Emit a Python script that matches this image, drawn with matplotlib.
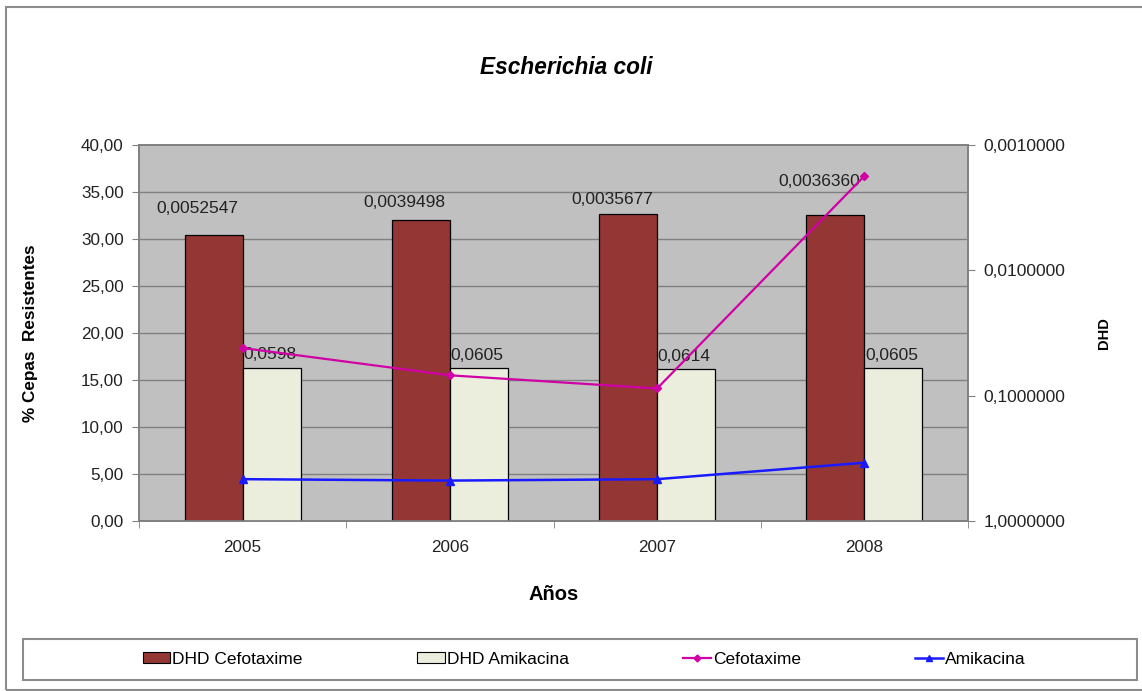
import numpy as np
import matplotlib.pyplot as plt
from matplotlib.patches import Rectangle
from matplotlib.lines import Line2D
from matplotlib.ticker import FixedLocator, NullLocator

plt.rcParams['font.family'] = ['Liberation Sans', 'DejaVu Sans']

# datos
years = ['2005', '2006', '2007', '2008']
dhd_cefotaxime = [0.0052547, 0.0039498, 0.0035677, 0.0036360]
dhd_amikacina = [0.0598, 0.0605, 0.0614, 0.0605]
dhd_cef_labels = ['0,0052547', '0,0039498', '0,0035677', '0,0036360']
dhd_ami_labels = ['0,0598', '0,0605', '0,0614', '0,0605']
pct_cefotaxime = [18.4, 15.5, 14.1, 36.7]
pct_amikacina = [4.45, 4.3, 4.45, 6.2]

left_ticks = np.arange(0, 45, 5)
right_ticks = [0.001, 0.01, 0.1, 1.0]
right_labels = ['0,0010000', '0,0100000', '0,1000000', '1,0000000']

RED = '#943634'
BEIGE = '#EBEEDD'
MAGENTA = '#D100A6'
BLUE = '#1A1AFF'
GRID = '#808080'
TXT = '#222222'

W, H = 1142, 691
fig = plt.figure(figsize=(W / 100, H / 100), dpi=100)

# marco exterior y marco de la leyenda
fig.patches.append(Rectangle((6 / W, 1 - 690 / H), 1.1, (690 - 7) / H,
                             transform=fig.transFigure, fill=False,
                             edgecolor='#8c8c8c', lw=1.5))
fig.patches.append(Rectangle((23 / W, 1 - 680 / H), (1137 - 23) / W, 41 / H,
                             transform=fig.transFigure, fill=False,
                             edgecolor='#8c8c8c', lw=1.5))

ax = fig.add_axes([139 / W, 1 - 521 / H, (968 - 139) / W, (521 - 145) / H])
ax2 = ax.twinx()
ax.set_zorder(2)
ax.patch.set_visible(False)
ax2.set_facecolor('#C0C0C0')
ax2.patch.set_visible(True)

x = np.arange(len(years))
bw = 0.28

# barras DHD en eje derecho (logaritmico invertido)
ax2.set_yscale('log')
ax2.set_ylim(1.0, 0.001)
v1 = np.array(dhd_cefotaxime)
v2 = np.array(dhd_amikacina)
ax2.bar(x - bw / 2, 1.0 - v1, bottom=v1, width=bw, color=RED,
        edgecolor='black', lw=0.9, zorder=3)
ax2.bar(x + bw / 2, 1.0 - v2, bottom=v2, width=bw, color=BEIGE,
        edgecolor='black', lw=0.9, zorder=3)
for xi, v, lab, dy in zip(x, v1, dhd_cef_labels, [27, 17, 15, 34]):
    ax2.annotate(lab, (xi - bw / 2, v), xytext=(-16, dy), textcoords='offset pixels',
                 ha='center', va='center', fontsize=12.5, color=TXT, zorder=5)
for xi, v, lab in zip(x, v2, dhd_ami_labels):
    ax2.annotate(lab, (xi + bw / 2, v), xytext=(-2, 13), textcoords='offset pixels',
                 ha='center', va='center', fontsize=12.5, color=TXT, zorder=5)

ax2.yaxis.set_major_locator(FixedLocator(right_ticks))
ax2.yaxis.set_minor_locator(NullLocator())
ax2.set_yticklabels(right_labels, fontsize=12.5, color=TXT)
ax2.tick_params(axis='y', direction='out', length=5, color=GRID, pad=6)
ax2.set_ylabel('DHD', fontsize=10.5, fontweight='bold', labelpad=23)

# lineas en eje izquierdo
ax.set_ylim(0, 40)
ax.set_xlim(-0.5, len(years) - 0.5)
ax.plot(x, pct_cefotaxime, color=MAGENTA, lw=1.6, marker='D', ms=4, zorder=4)
ax.plot(x, pct_amikacina, color=BLUE, lw=1.8, marker='^', ms=6, zorder=4)

ax.set_yticks(left_ticks)
ax.set_yticklabels([f'{t:.2f}'.replace('.', ',') for t in left_ticks],
                   fontsize=12.3, color=TXT)
ax.tick_params(axis='y', direction='out', length=5, color=GRID, pad=6)
for t in left_ticks[1:-1]:
    ax2.axhline(10 ** (-3 * t / 40), color=GRID, lw=1, zorder=1)

ax.set_xticks(x)
ax.set_xticklabels(years, fontsize=12.3, color=TXT)
ax.set_xticks(np.arange(-0.5, len(years)), minor=True)
ax.tick_params(axis='x', which='major', length=0, pad=14)
ax.tick_params(axis='x', which='minor', direction='out', length=5, color=GRID)
ax.set_ylabel('% Cepas  Resistentes', fontsize=12.3, fontweight='bold', labelpad=31)
ax.set_xlabel('Años', fontsize=14.5, fontweight='bold', labelpad=21)

for a in (ax, ax2):
    for s in a.spines.values():
        s.set_color(GRID)
        s.set_linewidth(1.2)

fig.text(566 / W, 1 - 68 / H, 'Escherichia coli', ha='center', va='center',
         fontsize=16.3, fontweight='bold', fontstyle='italic')

handles = [
    Rectangle((0, 0), 1, 1, facecolor=RED, edgecolor='black', lw=0.8),
    Rectangle((0, 0), 1, 1, facecolor=BEIGE, edgecolor='black', lw=0.8),
    Line2D([], [], color=MAGENTA, lw=1.6, marker='D', ms=3.5),
    Line2D([], [], color=BLUE, lw=1.8, marker='^', ms=5),
]
fig.legend(handles, ['DHD Cefotaxime', 'DHD Amikacina', 'Cefotaxime', 'Amikacina'],
           loc='center', bbox_to_anchor=(584 / W, 1 - 659 / H), ncol=4,
           frameon=False, fontsize=12.5, columnspacing=6.6, handlelength=1.6,
           handletextpad=0.1, handleheight=0.6)

fig.savefig('out.png', dpi=100)
